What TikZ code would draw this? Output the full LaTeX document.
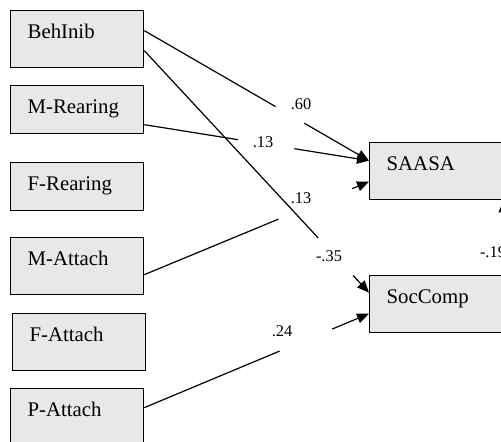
\documentclass[tikz,border=0pt]{standalone}
\usepackage{fontspec}
\setmainfont{Liberation Serif}
\usetikzlibrary{arrows.meta, calc}
\definecolor{boxgray}{RGB}{232,232,232}

\begin{document}
\begin{tikzpicture}[x=0.5pt, y=-0.5pt,
    var/.style={draw, fill=boxgray, line width=0.65pt, anchor=north west,
      inner xsep=8.5pt, inner ysep=0pt, align=left, text width=49.5pt,
      text height=14pt, text depth=#1, font=\fontsize{10.4}{12}\selectfont},
    var/.default=14.5pt,
    wide/.style={text width=117pt},
    lnk/.style={line width=0.6pt},
    coef/.style={inner sep=0pt, font=\fontsize{8.2}{10}\selectfont},
    >={Triangle[length=6pt, width=5pt]}]
  \useasboundingbox (0,0) rectangle (501,441);

  % --- 左侧：预测变量 ---
  \node[var] (bi) at (10,10) {BehInib};
  \node[var=10pt] (mr) at (10,85) {M-Rearing};
  \node[var=10pt] (fr) at (10,162) {F-Rearing};
  \node[var] (ma) at (10,237) {M-Attach};
  \node[var] (fa) at (12,313) {F-Attach};
  \node[var] (pa) at (10,388) {P-Attach};

  % --- 右侧：结果变量 ---
  \node[var, wide] (saasa) at (369,142) {SAASA};
  \node[var, wide] (soc) at (369,275) {SocComp};

  % 路径端点
  \coordinate (bi-a) at ([yshift=4.25pt]bi.east);
  \coordinate (bi-b) at ([yshift=-5.75pt]bi.east);
  \coordinate (mr-a) at ([yshift=-7.5pt]mr.east);
  \coordinate (ma-a) at ([yshift=-4.25pt]ma.east);
  \coordinate (pa-a) at ([yshift=4.75pt]pa.east);
  \coordinate (saasa-a) at ([yshift=5.25pt]saasa.west);
  \coordinate (saasa-b) at ([yshift=-5.25pt]saasa.west);
  \coordinate (soc-a) at ([yshift=5.75pt]soc.west);
  \coordinate (soc-b) at ([yshift=-4.75pt]soc.west);

  % --- 路径系数 ---
  \draw[lnk] (bi-a) -- ($(bi-a)!0.584!(saasa-a)$);
  \draw[lnk, ->] ($(bi-a)!0.712!(saasa-a)$) -- (saasa-a);
  \node[coef] (c60) at (301,104) {.60};

  \draw[lnk] (mr-a) -- ($(mr-a)!0.416!(saasa-a)$);
  \draw[lnk, ->] ($(mr-a)!0.668!(saasa-a)$) -- (saasa-a);
  \node[coef] (c13a) at (263,142) {.13};

  \draw[lnk] (bi-b) -- ($(bi-b)!0.774!(soc-a)$);
  \draw[lnk, ->] ($(bi-b)!0.929!(soc-a)$) -- (soc-a);
  \node[coef] (c35) at (329,256) {-.35};

  \draw[lnk] (ma-a) -- ($(ma-a)!0.597!(saasa-b)$);
  \draw[lnk, ->] ($(ma-a)!0.925!(saasa-b)$) -- (saasa-b);
  \node[coef] (c13b) at (301,198) {.13};

  \draw[lnk] (pa-a) -- ($(pa-a)!0.602!(soc-b)$);
  \draw[lnk, ->] ($(pa-a)!0.836!(soc-b)$) -- (soc-b);
  \node[coef] (c24) at (282,331) {.24};

  % SocComp -> SAASA（右边界外）
  \draw[lnk, ->] (soc.north) -- (saasa.south);
  \node[coef] (c19) at (493,252) {-.19};
\end{tikzpicture}
\end{document}
